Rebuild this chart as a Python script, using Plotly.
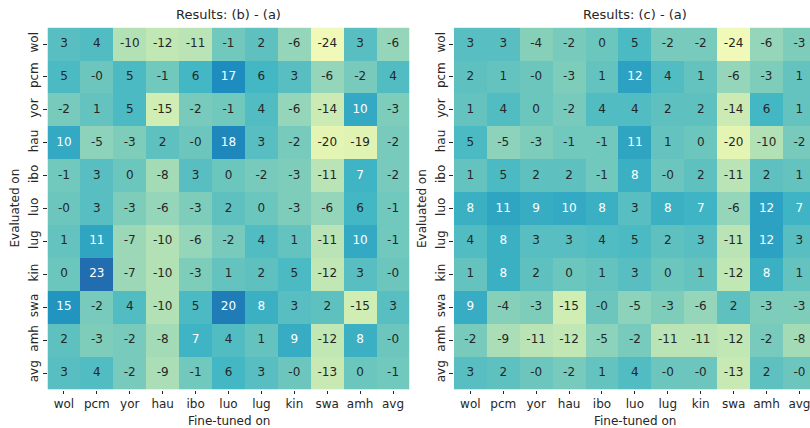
import plotly.graph_objects as go

langs = ["wol", "pcm", "yor", "hau", "ibo", "luo", "lug", "kin", "swa", "amh", "avg"]

# rows = evaluated on, cols = fine-tuned on
diff_b_a = [
    [3, 4, -10, -12, -11, -1, 2, -6, -24, 3, -6],
    [5, -0.3, 5, -1, 6, 17, 6, 3, -6, -2, 4],
    [-2, 1, 5, -15, -2, -1, 4, -6, -14, 10, -3],
    [10, -5, -3, 2, -0.3, 18, 3, -2, -20, -19, -2],
    [-1, 3, 0, -8, 3, 0, -2, -3, -11, 7, -2],
    [-0.3, 3, -3, -6, -3, 2, 0, -3, -6, 6, -1],
    [1, 11, -7, -10, -6, -2, 4, 1, -11, 10, -1],
    [0, 23, -7, -10, -3, 1, 2, 5, -12, 3, -0.3],
    [15, -2, 4, -10, 5, 20, 8, 3, 2, -15, 3],
    [2, -3, -2, -8, 7, 4, 1, 9, -12, 8, -0.3],
    [3, 4, -2, -9, -1, 6, 3, -0.3, -13, 0, -1],
]

diff_c_a = [
    [3, 3, -4, -2, 0, 5, -2, -2, -24, -6, -3],
    [2, 1, -0.3, -3, 1, 12, 4, 1, -6, -3, 1],
    [1, 4, 0, -2, 4, 4, 2, 2, -14, 6, 1],
    [5, -5, -3, -1, -1, 11, 1, 0, -20, -10, -2],
    [1, 5, 2, 2, -1, 8, -0.3, 2, -11, 2, 1],
    [8, 11, 9, 10, 8, 3, 8, 7, -6, 12, 7],
    [4, 8, 3, 3, 4, 5, 2, 3, -11, 12, 3],
    [1, 8, 2, 0, 1, 3, 0, 1, -12, 8, 1],
    [9, -4, -3, -15, -0.3, -5, -3, -6, 2, -3, -3],
    [-2, -9, -11, -12, -5, -2, -11, -11, -12, -2, -8],
    [3, 2, -0.3, -2, 1, 4, -0.3, -0.3, -13, 2, -0.3],
]

titles = ["Results: (b) - (a)", "Results: (c) - (a)"]

ylgnbu = ["#ffffd9", "#edf8b1", "#c7e9b4", "#7fcdbb", "#41b6c4",
          "#1d91c0", "#225ea8", "#253494", "#081d58"]
colorscale = [[i / (len(ylgnbu) - 1), c] for i, c in enumerate(ylgnbu)]
ZMIN, ZMAX = -32, 45

W, H = 810, 428
FONT = "DejaVu Sans"
DARK = "#262626"

fig = go.Figure()

idx = list(range(len(langs)))
panels = [(diff_b_a, "x", "y"), (diff_c_a, "x2", "y2")]
for data, xa, ya in panels:
    fig.add_trace(go.Heatmap(
        z=data, x=idx, y=idx, colorscale=colorscale, zmin=ZMIN, zmax=ZMAX,
        showscale=False, xaxis=xa, yaxis=ya, hoverinfo="skip"))
    xs, ys, txt, cols = [], [], [], []
    for r, row in enumerate(data):
        for c, v in enumerate(row):
            xs.append(c)
            ys.append(r)
            txt.append(f"{v:.0f}")
            cols.append("white" if v >= 6.5 else DARK)
    fig.add_trace(go.Scatter(
        x=xs, y=ys, text=txt, mode="text", xaxis=xa, yaxis=ya,
        textposition="middle center", cliponaxis=False,
        textfont=dict(family=FONT, size=12, color=cols),
        hoverinfo="skip", showlegend=False))

unit = (409.5 - 47.5) / 11.0
left_dom = [47.5 / W, 409.5 / W]
right_x0 = 453.9
right_dom = [right_x0 / W, 1.0]
right_hi = -0.5 + (W - right_x0) / unit
y_dom = [1 - 389.5 / H, 1 - 27.6 / H]

axis_common = dict(
    tickmode="array", tickvals=idx, ticktext=langs, ticks="outside",
    ticklen=3.5, tickwidth=0.8, tickcolor=DARK, showgrid=False,
    zeroline=False, showline=False, ticklabeloverflow="allow",
    tickfont=dict(family=FONT, size=12, color=DARK),
)

fig.update_layout(
    width=W, height=H,
    margin=dict(l=0, r=0, t=0, b=0),
    paper_bgcolor="white", plot_bgcolor="white",
    showlegend=False,
    xaxis=dict(domain=left_dom, range=[-0.5, 10.5], anchor="y", **axis_common),
    yaxis=dict(domain=y_dom, range=[10.5, -0.5], anchor="x", tickangle=-90,
               **axis_common),
    xaxis2=dict(domain=right_dom, range=[-0.5, right_hi], anchor="y2",
                **axis_common),
    yaxis2=dict(domain=y_dom, range=[10.5, -0.5], anchor="x2", tickangle=-90,
                **axis_common),
)

left_cx = (47.5 + 409.5) / 2 / W
right_cx = (right_x0 + right_x0 + 11 * unit) / 2 / W
anns = []
for cx, t in zip([left_cx, right_cx], titles):
    anns.append(dict(x=cx, y=1 - 15 / H, xref="paper", yref="paper",
                     text=t, showarrow=False, xanchor="center", yanchor="middle",
                     font=dict(family=FONT, size=13, color=DARK)))
    anns.append(dict(x=cx, y=1 - 420.5 / H, xref="paper", yref="paper",
                     text="Fine-tuned on", showarrow=False, xanchor="center",
                     yanchor="middle", font=dict(family=FONT, size=12, color=DARK)))
for yx in [14 / W, 421.5 / W]:
    anns.append(dict(x=yx, y=1 - 208.5 / H, xref="paper", yref="paper",
                     text="Evaluated on", showarrow=False, textangle=-90,
                     xanchor="center", yanchor="middle",
                     font=dict(family=FONT, size=12, color=DARK)))
fig.update_layout(annotations=anns)

fig.write_html(
    "out.html",
    config={"displayModeBar": False},
    post_script="document.body.style.margin='0';document.body.style.overflow='hidden';",
)
